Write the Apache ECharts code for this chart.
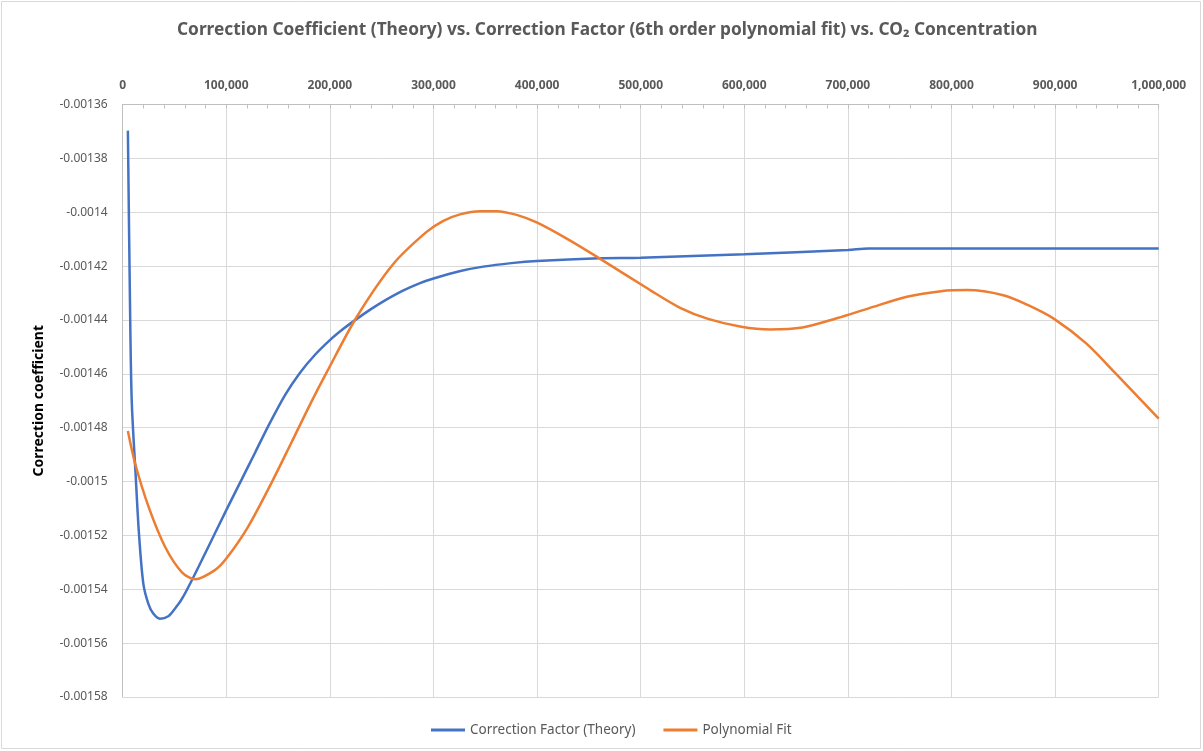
<!DOCTYPE html>
<html>
<head>
<meta charset="utf-8">
<script src="https://cdn.jsdelivr.net/npm/echarts@6/dist/echarts.min.js"></script>
<style>
html,body{margin:0;padding:0;background:#fff;}
#chart{width:1203px;height:751px;}
</style>
</head>
<body>
<div id="chart"></div>
<script>
// CO2 concentration (x) and correction coefficient (y)
const theoryX = [5000, 7000, 8700, 12500, 15700, 19900, 24700, 29500, 36000, 44000, 50000, 57000, 68000, 82600, 100000, 115000, 128000, 140500, 156700, 171000, 185000, 200000, 213000, 226000, 240000, 252000, 270000, 287000, 300000, 325000, 348000, 375000, 400000, 460000, 500000, 600000, 700000, 720000, 800000, 900000, 1000000];
const theoryY = [-0.0013697, -0.0014326, -0.0014698, -0.0014976, -0.0015193, -0.0015379, -0.0015453, -0.001549, -0.0015509, -0.001550, -0.0015474, -0.0015437, -0.0015357, -0.0015243, -0.0015106, -0.0014991, -0.0014891, -0.0014794, -0.0014679, -0.0014597, -0.0014532, -0.0014475, -0.0014433, -0.0014396, -0.0014359, -0.001433, -0.0014292, -0.0014263, -0.0014246, -0.0014219, -0.0014202, -0.0014189, -0.0014181, -0.0014171, -0.0014169, -0.0014156, -0.001414, -0.0014135, -0.0014135, -0.0014135, -0.0014135];

const fitX = [5000, 12000, 25000, 41000, 57000, 70000, 89000, 100000, 121000, 144000, 163000, 182000, 197000, 226000, 261000, 293000, 309500, 325600, 345000, 361000, 380300, 399600, 428600, 457500, 509000, 538000, 565000, 597000, 625000, 656000, 690000, 720000, 757000, 790000, 815000, 850000, 874000, 899000, 930000, 957000, 1000000];
const fitY = [-0.0014812, -0.0014933, -0.0015094, -0.0015243, -0.0015336, -0.0015363, -0.0015329, -0.0015286, -0.0015168, -0.0015002, -0.0014854, -0.0014705, -0.0014594, -0.0014388, -0.0014193, -0.0014074, -0.0014032, -0.0014008, -0.0013996, -0.0013996, -0.001401, -0.0014038, -0.0014098, -0.0014165, -0.0014289, -0.0014355, -0.0014396, -0.0014425, -0.0014435, -0.0014428, -0.0014393, -0.0014357, -0.0014314, -0.0014293, -0.0014289, -0.0014308, -0.0014345, -0.0014396, -0.0014487, -0.0014593, -0.0014766];

const seriesNames = ['Correction Factor (Theory)', 'Polynomial Fit'];
const titleText = 'Correction Coefficient (Theory) vs. Correction Factor (6th order polynomial fit) vs. CO\u2082 Concentration';
const yAxisName = 'Correction coefficient';

const pair = (xs, ys) => xs.map((x, i) => [x, ys[i]]);

const chart = echarts.init(document.getElementById('chart'), null, {renderer: 'canvas'});
const grey = '#595959';
chart.setOption({
  animation: false,
  backgroundColor: '#fff',
  textStyle: {fontFamily: 'Noto Sans'},
  graphic: [{
    type: 'rect', shape: {x: 1.5, y: 1.5, width: 1199, height: 747},
    style: {fill: 'none', stroke: '#d9d9d9', lineWidth: 1}, silent: true, z: -1
  }],
  title: {
    text: titleText, left: 172, top: 17,
    textStyle: {fontFamily: 'Noto Sans', fontWeight: 'bold', fontSize: 17.3, color: grey}
  },
  legend: {
    bottom: 9, left: 426, icon: 'rect', itemWidth: 34, itemHeight: 3, itemGap: 28,
    textStyle: {fontFamily: 'Noto Sans', fontSize: 13.5, color: grey},
    data: seriesNames
  },
  grid: {left: 122.7, right: 44.3, top: 104.5, bottom: 54, containLabel: false},
  xAxis: {
    type: 'value', position: 'top', min: 0, max: 1000000, interval: 100000,
    axisLine: {show: true, lineStyle: {color: '#bfbfbf', width: 1}},
    axisTick: {show: true, inside: true, length: 4, lineStyle: {color: '#bfbfbf'}},
    minorTick: {show: true, splitNumber: 5, length: 4, lineStyle: {color: '#bfbfbf'}},
    splitLine: {show: true, lineStyle: {color: '#d9d9d9', width: 1}},
    axisLabel: {
      color: grey, fontWeight: 'bold', fontSize: 12, margin: 13,
      formatter: v => v.toLocaleString('en-US')
    }
  },
  yAxis: {
    type: 'value', min: -0.00158, max: -0.00136, interval: 0.00002,
    name: yAxisName, nameLocation: 'middle', nameGap: 77, nameRotate: 90, nameMoveOverlap: false,
    nameTextStyle: {fontFamily: 'Noto Sans', fontWeight: 'bold', fontSize: 14, color: '#000'},
    axisLine: {show: true, lineStyle: {color: '#bfbfbf', width: 1}},
    axisTick: {show: false},
    splitLine: {show: true, lineStyle: {color: '#d9d9d9', width: 1}},
    axisLabel: {
      color: grey, fontSize: 12, margin: 15,
      formatter: v => String(parseFloat(v.toFixed(5)))
    }
  },
  series: [
    {name: seriesNames[0], type: 'line', data: pair(theoryX, theoryY), showSymbol: false, symbol: 'none',
     smooth: 0.3, lineStyle: {color: '#4472C4', width: 2.5}, itemStyle: {color: '#4472C4'}},
    {name: seriesNames[1], type: 'line', data: pair(fitX, fitY), showSymbol: false, symbol: 'none',
     smooth: 0.3, lineStyle: {color: '#ED7D31', width: 2.5}, itemStyle: {color: '#ED7D31'}}
  ]
});
</script>
</body>
</html>
